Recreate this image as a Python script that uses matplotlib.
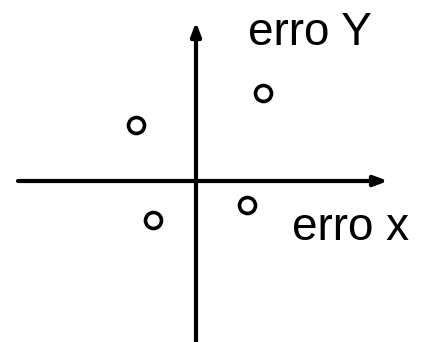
import matplotlib

matplotlib.use("Agg")
import matplotlib.pyplot as plt

# pontos de erro (coordenadas relativas ao cruzamento dos eixos)
erro_x = [-60, 67, -43, 51]
erro_y = [56, 88, -39, -24]

fig = plt.figure(figsize=(4.35, 3.42), dpi=100)
ax = fig.add_axes([0, 0, 1, 1])
ax.set_xlim(-196, 239)
ax.set_ylim(-161, 181)
ax.axis("off")

arrow = dict(arrowstyle="-|>,head_length=0.8,head_width=0.3", color="black",
             lw=3.0, shrinkA=0, shrinkB=0)
# eixo x
ax.annotate("", xy=(192, 0), xytext=(-178, 0), arrowprops=arrow)
# eixo y
ax.annotate("", xy=(0, 159), xytext=(0, -161), arrowprops=arrow)

ax.plot(erro_x, erro_y, "o", mfc="white", mec="black", ms=11.5, mew=2.6)

ax.text(52, 136, "erro Y", fontsize=33, family="Liberation Sans", ha="left", va="baseline")
ax.text(96, -59, "erro x", fontsize=33, family="Liberation Sans", ha="left", va="baseline")

fig.savefig("out.png", dpi=100)
